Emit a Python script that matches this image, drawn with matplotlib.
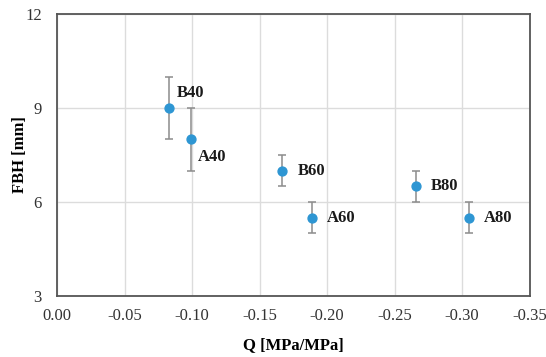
import matplotlib
matplotlib.use("Agg")
import matplotlib.pyplot as plt

labels = ["B40", "A40", "B60", "A60", "B80", "A80"]
q = [-0.083, -0.099, -0.167, -0.189, -0.266, -0.305]
fbh = [9.0, 8.0, 7.0, 5.5, 6.5, 5.5]
err = [1.0, 1.0, 0.5, 0.5, 0.5, 0.5]
label_offsets = [(8, 15), (7, -18), (15, 0), (15, 0), (15, 0), (15, 0)]
x_ticks = [0.00, -0.05, -0.10, -0.15, -0.20, -0.25, -0.30, -0.35]
y_ticks = [3, 6, 9, 12]

plt.rcParams['font.family'] = ['Liberation Serif', 'DejaVu Serif']

fig = plt.figure(figsize=(5.46, 3.57), dpi=100)
ax = fig.add_axes([0.1044, 0.171, 0.8654, 0.7898])

ax.errorbar(q, fbh, yerr=err, fmt='o', color='#2E96D3', markersize=6.4,
            ecolor='#8c8c8c', elinewidth=1.1, capsize=2.6, capthick=1.1, zorder=3)

for lab, x, y, (dx, dy) in zip(labels, q, fbh, label_offsets):
    ax.annotate(lab, (x, y), xytext=(dx, dy), textcoords='offset pixels',
                ha='left', va='center', fontsize=12, fontweight='bold', color='#1a1a1a')

ax.set_xlim(0, -0.35)
ax.set_ylim(3, 12)
ax.set_xticks(x_ticks)
ax.set_xticklabels([f"{t:.2f}" for t in x_ticks])
ax.set_yticks(y_ticks)
ax.grid(True, color='#dcdcdc', linewidth=1.0, zorder=0)
ax.set_axisbelow(True)
ax.tick_params(length=0, labelsize=12, colors='#333333')
ax.tick_params(axis='x', pad=9)
ax.tick_params(axis='y', pad=11)
for s in ax.spines.values():
    s.set_color('#555555')
    s.set_linewidth(1.3)

ax.set_xlabel("Q [MPa/MPa]", fontsize=12, fontweight='bold', labelpad=9)
ax.set_ylabel("FBH [mm]", fontsize=12, fontweight='bold', labelpad=-2)

fig.savefig("out.png", dpi=100)
